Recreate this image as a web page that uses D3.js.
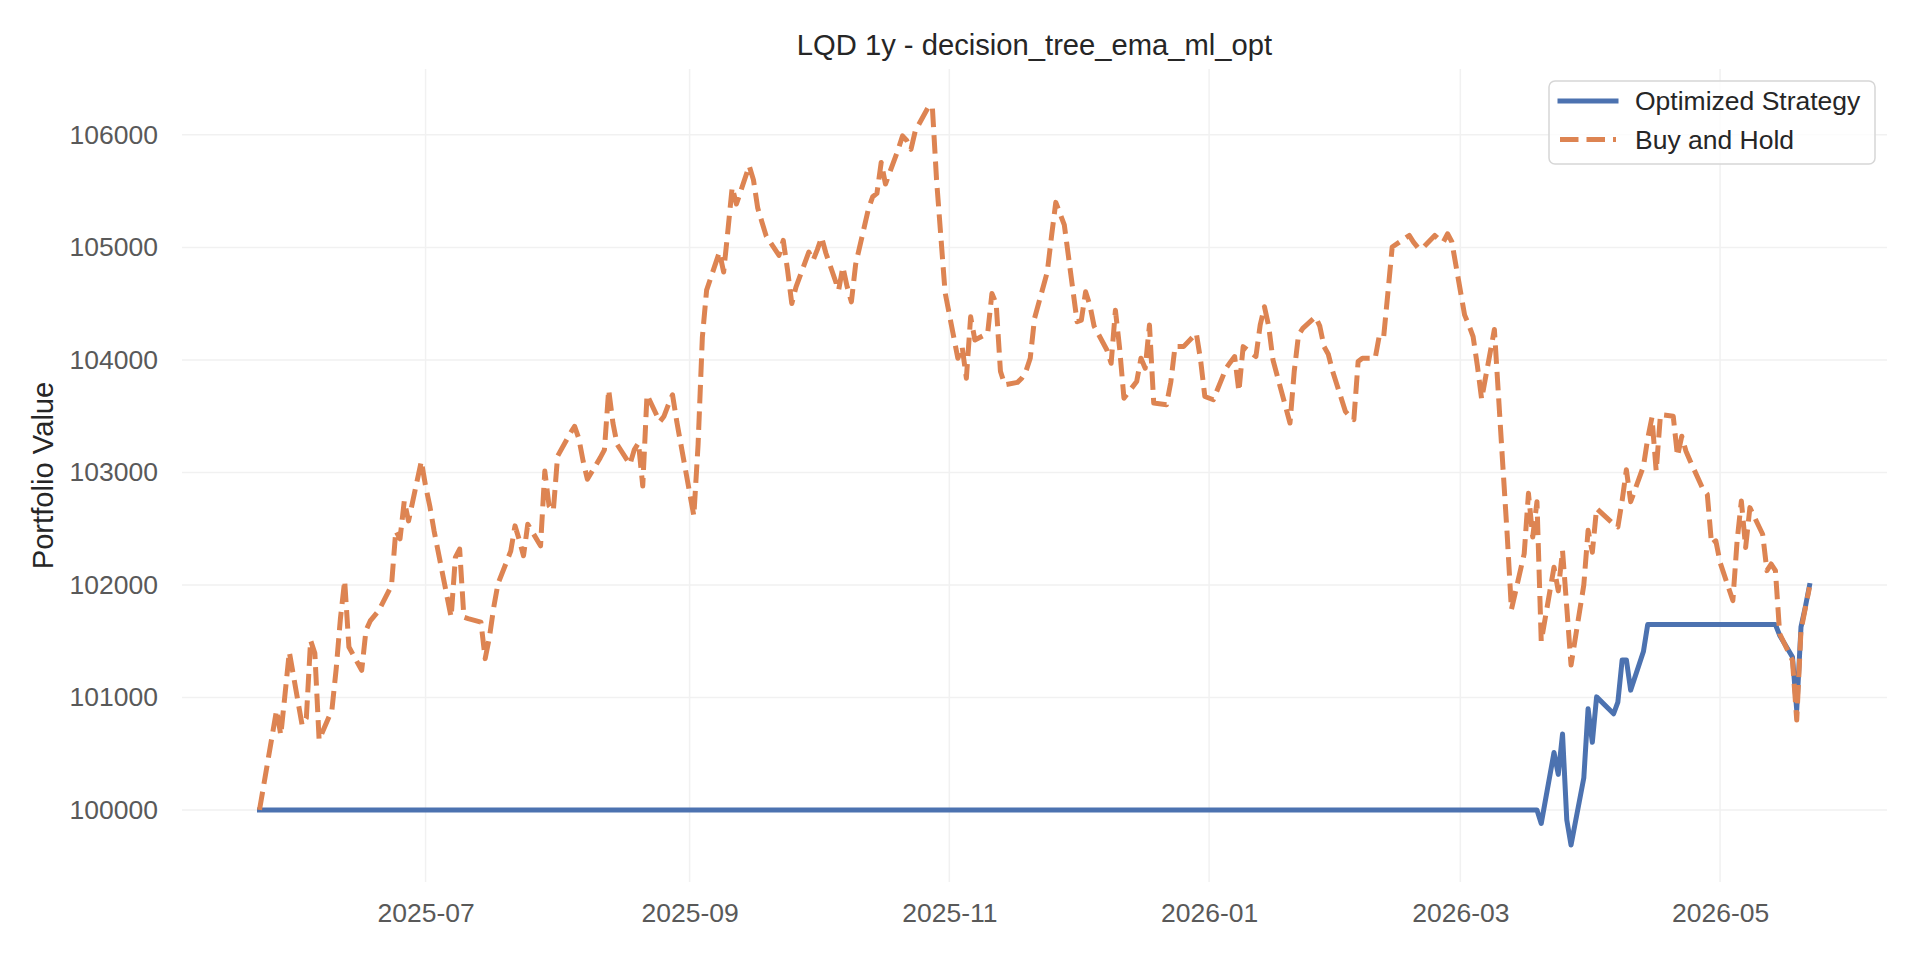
<!DOCTYPE html>
<html>
<head>
<meta charset="utf-8">
<script src="https://cdn.jsdelivr.net/npm/d3@7/dist/d3.min.js"></script>
<style>
  html, body { margin: 0; padding: 0; background: #ffffff; }
  svg { display: block; font-family: "Liberation Sans", Arial, sans-serif; }
</style>
</head>
<body>
<svg id="chart" width="1920" height="960"></svg>
<script>
const chartTitle = "LQD 1y - decision_tree_ema_ml_opt";
const yLabel = "Portfolio Value";
const seriesNames = ["Optimized Strategy", "Buy and Hold"];
const yTickValues = [100000, 101000, 102000, 103000, 104000, 105000, 106000];
const xTickLabels = ["2025-07", "2025-09", "2025-11", "2026-01", "2026-03", "2026-05"];

const holdDates = [
"2025-05-23","2025-05-27","2025-05-28","2025-05-29","2025-05-30","2025-06-02","2025-06-03","2025-06-04","2025-06-05","2025-06-06",
"2025-06-09","2025-06-10","2025-06-11","2025-06-12","2025-06-13","2025-06-16","2025-06-17","2025-06-18","2025-06-20","2025-06-23",
"2025-06-24","2025-06-25","2025-06-26","2025-06-27","2025-06-30","2025-07-01","2025-07-02","2025-07-03","2025-07-07","2025-07-08",
"2025-07-09","2025-07-10","2025-07-11","2025-07-14","2025-07-15","2025-07-16","2025-07-17","2025-07-18","2025-07-21","2025-07-22",
"2025-07-23","2025-07-24","2025-07-25","2025-07-28","2025-07-29","2025-07-30","2025-07-31","2025-08-01","2025-08-04","2025-08-05",
"2025-08-06","2025-08-07","2025-08-08","2025-08-11","2025-08-12","2025-08-13","2025-08-14","2025-08-15","2025-08-18","2025-08-19",
"2025-08-20","2025-08-21","2025-08-22","2025-08-25","2025-08-26","2025-08-27","2025-08-28","2025-08-29","2025-09-02","2025-09-03",
"2025-09-04","2025-09-05","2025-09-08","2025-09-09","2025-09-10","2025-09-11","2025-09-12","2025-09-15","2025-09-16","2025-09-17",
"2025-09-18","2025-09-19","2025-09-22","2025-09-23","2025-09-24","2025-09-25","2025-09-26","2025-09-29","2025-09-30","2025-10-01",
"2025-10-02","2025-10-03","2025-10-06","2025-10-07","2025-10-08","2025-10-09","2025-10-10","2025-10-13","2025-10-14","2025-10-15",
"2025-10-16","2025-10-17","2025-10-20","2025-10-21","2025-10-22","2025-10-23","2025-10-24","2025-10-27","2025-10-28","2025-10-29",
"2025-10-30","2025-10-31","2025-11-03","2025-11-04","2025-11-05","2025-11-06","2025-11-07","2025-11-10","2025-11-11","2025-11-12",
"2025-11-13","2025-11-14","2025-11-17","2025-11-18","2025-11-19","2025-11-20","2025-11-21","2025-11-24","2025-11-25","2025-11-26",
"2025-11-28","2025-12-01","2025-12-02","2025-12-03","2025-12-04","2025-12-05","2025-12-08","2025-12-09","2025-12-10","2025-12-11",
"2025-12-12","2025-12-15","2025-12-16","2025-12-17","2025-12-18","2025-12-19","2025-12-22","2025-12-23","2025-12-24","2025-12-26",
"2025-12-29","2025-12-30","2025-12-31","2026-01-02","2026-01-05","2026-01-06","2026-01-07","2026-01-08","2026-01-09","2026-01-12",
"2026-01-13","2026-01-14","2026-01-15","2026-01-16","2026-01-20","2026-01-21","2026-01-22","2026-01-23","2026-01-26","2026-01-27",
"2026-01-28","2026-01-29","2026-01-30","2026-02-02","2026-02-03","2026-02-04","2026-02-05","2026-02-06","2026-02-09","2026-02-10",
"2026-02-11","2026-02-12","2026-02-13","2026-02-17","2026-02-18","2026-02-19","2026-02-20","2026-02-23","2026-02-24","2026-02-25",
"2026-02-26","2026-02-27","2026-03-02","2026-03-03","2026-03-04","2026-03-05","2026-03-06","2026-03-09","2026-03-10","2026-03-11",
"2026-03-12","2026-03-13","2026-03-16","2026-03-17","2026-03-18","2026-03-19","2026-03-20","2026-03-23","2026-03-24","2026-03-25",
"2026-03-26","2026-03-27","2026-03-30","2026-03-31","2026-04-01","2026-04-02","2026-04-06","2026-04-07","2026-04-08","2026-04-09",
"2026-04-10","2026-04-13","2026-04-14","2026-04-15","2026-04-16","2026-04-17","2026-04-20","2026-04-21","2026-04-22","2026-04-23",
"2026-04-24","2026-04-27","2026-04-28","2026-04-29","2026-04-30","2026-05-01","2026-05-04","2026-05-05","2026-05-06","2026-05-07",
"2026-05-08","2026-05-11","2026-05-12","2026-05-13","2026-05-14","2026-05-15","2026-05-18","2026-05-19","2026-05-20","2026-05-21",
"2026-05-22"
];
const holdValues = [
100000,100887,100666,101030,101404,100755,100817,101507,101392,100622,
100887,101250,101700,102038,101448,101241,101595,101680,101772,101994,
102480,102410,102746,102569,103100,102879,102700,102480,101713,102244,
102319,101713,101700,101669,101345,101536,101800,102009,102300,102525,
102400,102259,102540,102348,103012,102702,102658,103144,103350,103410,
103300,103100,102939,103129,103200,103735,103439,103248,103071,103200,
103262,102879,103690,103450,103500,103600,103690,103450,102613,103250,
104200,104620,104958,104781,105150,105533,105385,105725,105600,105350,
105224,105100,104929,105062,104800,104501,104650,104958,104885,104980,
105090,104950,104620,104826,104650,104516,104850,105342,105450,105480,
105755,105563,105872,105991,105950,105872,106035,106242,106257,105600,
105100,104600,104014,104118,103837,104383,104177,104236,104590,104501,
103900,103779,103800,103837,103900,104014,104368,104781,105100,105400,
105200,104339,104354,104605,104487,104300,104088,103970,104442,104100,
103660,103808,104014,103926,104310,103616,103602,103800,104118,104118,
104236,104000,103675,103646,103926,103980,104030,103720,104118,104030,
104310,104472,104300,104000,103439,103900,104221,104280,104383,104300,
104118,104050,103900,103543,103500,103469,103985,104014,104014,104221,
104206,104600,105003,105106,105047,105000,104988,105106,105070,105047,
105121,105050,104400,104310,104206,103950,103652,104270,103660,103050,
102450,101781,102277,102814,102425,102740,101498,102157,101947,102306,
101800,101288,102000,102485,102291,102680,102540,102516,102750,103024,
102740,103054,103300,103488,103012,103513,103500,103144,103321,103188,
103100,102850,102805,102363,102392,102200,101861,102392,102746,102333,
102687,102450,102127,102186,102127,101566,101330,100799,101596,101790,
101979
];

const stratDates = [
"2025-05-23","2026-03-19","2026-03-20","2026-03-23","2026-03-24","2026-03-25","2026-03-26","2026-03-27","2026-03-30","2026-03-31",
"2026-04-01","2026-04-02","2026-04-06","2026-04-07","2026-04-08","2026-04-09","2026-04-10","2026-04-13","2026-04-14","2026-05-14",
"2026-05-15","2026-05-18","2026-05-19","2026-05-20","2026-05-21","2026-05-22"
];
const stratValues = [
100000,100000,99880,100510,100316,100675,99912,99688,100285,100900,
100601,101005,100855,100959,101333,101333,101065,101408,101648,101648,
101551,101360,100888,101625,101800,101994
];

const parse = d3.utcParse("%Y-%m-%d");
const hold = holdDates.map((d, i) => ({ date: parse(d), value: holdValues[i] }));
const strat = stratDates.map((d, i) => ({ date: parse(d), value: stratValues[i] }));

const svg = d3.select("#chart");
const plot = { left: 182, right: 1887, top: 69, bottom: 882 };

const allDates = hold.map(d => d.date).concat(strat.map(d => d.date));
const allVals = holdValues.concat(stratValues);
const [d0, d1] = d3.extent(allDates);
const dpad = (d1 - d0) * 0.05;
const [v0, v1] = d3.extent(allVals);
const vpad = (v1 - v0) * 0.05;

const x = d3.scaleUtc().domain([new Date(+d0 - dpad), new Date(+d1 + dpad)]).range([plot.left, plot.right]);
const y = d3.scaleLinear().domain([v0 - vpad, v1 + vpad]).range([plot.bottom, plot.top]);

const xTicks = xTickLabels.map(s => d3.utcParse("%Y-%m")(s));

// grid
const grid = svg.append("g");
grid.selectAll("line.h").data(yTickValues).join("line")
  .attr("x1", plot.left).attr("x2", plot.right)
  .attr("y1", d => y(d)).attr("y2", d => y(d))
  .attr("stroke", "#f1f1f1").attr("stroke-width", 1.5);
grid.selectAll("line.v").data(xTicks).join("line")
  .attr("y1", plot.top).attr("y2", plot.bottom)
  .attr("x1", d => x(d)).attr("x2", d => x(d))
  .attr("stroke", "#f1f1f1").attr("stroke-width", 1.5);

// axes
const yAxis = d3.axisLeft(y).tickValues(yTickValues).tickFormat(d3.format("d")).tickSize(0).tickPadding(24);
const yg = svg.append("g").attr("transform", `translate(${plot.left},0)`).call(yAxis);
yg.select(".domain").remove();
yg.selectAll("text").attr("font-size", 26.5).attr("fill", "#595959")
  .attr("font-family", "'Liberation Sans', Arial, sans-serif");

const xAxis = d3.axisBottom(x).tickValues(xTicks).tickFormat(d3.utcFormat("%Y-%m")).tickSize(0).tickPadding(0);
const xg = svg.append("g").attr("transform", `translate(0,${plot.bottom})`).call(xAxis);
xg.select(".domain").remove();
xg.selectAll("text").attr("font-size", 26.5).attr("fill", "#595959").attr("dy", null)
  .attr("y", 40).attr("font-family", "'Liberation Sans', Arial, sans-serif");

// lines
const line = d3.line().x(d => x(d.date)).y(d => y(d.value));
svg.append("path").datum(strat).attr("d", line)
  .attr("fill", "none").attr("stroke", "#4c72b0").attr("stroke-width", 5)
  .attr("stroke-linejoin", "round").attr("stroke-linecap", "square");
svg.append("path").datum(hold).attr("d", line)
  .attr("fill", "none").attr("stroke", "#dd8452").attr("stroke-width", 5)
  .attr("stroke-linejoin", "round").attr("stroke-dasharray", "18.5,8");

// title and label
svg.append("text").attr("x", (plot.left + plot.right) / 2).attr("y", 55)
  .attr("text-anchor", "middle").attr("font-size", 29.2).attr("fill", "#262626").text(chartTitle);
svg.append("text").attr("transform", `translate(53,${(plot.top + plot.bottom) / 2}) rotate(-90)`)
  .attr("text-anchor", "middle").attr("font-size", 29.2).attr("fill", "#262626").text(yLabel);

// legend
const lg = svg.append("g");
lg.append("rect").attr("x", 1549).attr("y", 81).attr("width", 326).attr("height", 83)
  .attr("rx", 6).attr("fill", "#ffffff").attr("fill-opacity", 0.8)
  .attr("stroke", "#d6d6d6").attr("stroke-width", 1.5);
const legendItems = [
  { name: seriesNames[0], color: "#4c72b0", dash: null, yy: 101 },
  { name: seriesNames[1], color: "#dd8452", dash: "18.5,8", yy: 139.5 }
];
legendItems.forEach(it => {
  lg.append("line").attr("x1", 1560).attr("x2", 1616).attr("y1", it.yy).attr("y2", it.yy)
    .attr("stroke", it.color).attr("stroke-width", 5)
    .attr("stroke-dasharray", it.dash).attr("stroke-linecap", it.dash ? "butt" : "square");
  lg.append("text").attr("x", 1635).attr("y", it.yy).attr("dy", "0.35em")
    .attr("font-size", 26.5).attr("fill", "#262626").text(it.name);
});
</script>
</body>
</html>
